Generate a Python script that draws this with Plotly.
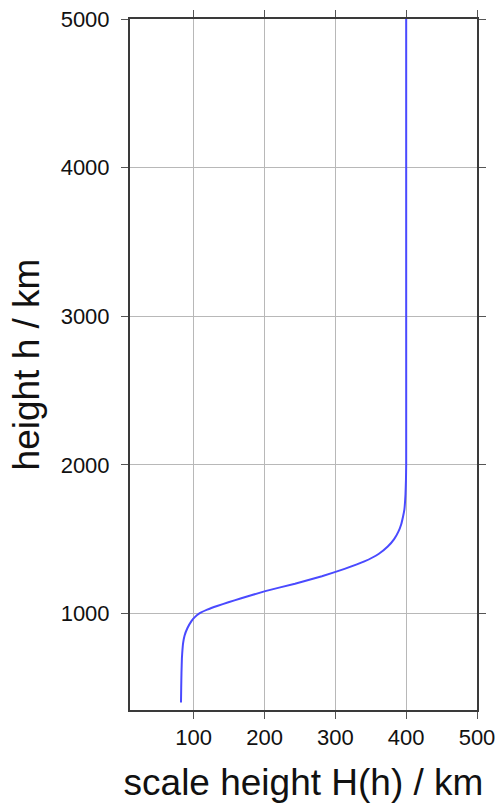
import plotly.graph_objects as go

# height h / km
height_km = [400, 500, 600, 700, 750, 800, 850, 900, 950, 975, 1000, 1025,
             1050, 1075, 1100, 1150, 1200, 1250, 1300, 1350, 1400, 1450, 1500,
             1550, 1600, 1650, 1700, 1800, 1900, 2000, 3000, 4000, 5000]
# scale height H(h) / km
scale_height_km = [82, 82.3, 82.7, 83.3, 84, 85, 87, 91, 97, 101.5, 108, 119,
                   133, 149, 166, 201, 243, 281, 313, 341, 361, 374, 383,
                   389, 393, 395.5, 397.5, 399, 399.7, 400, 400, 400, 400]

x_ticks = [100, 200, 300, 400, 500]
y_ticks = [1000, 2000, 3000, 4000, 5000]

font_family = "Liberation Sans, Arial, Helvetica, sans-serif"

fig = go.Figure()
fig.add_trace(go.Scatter(
    x=scale_height_km, y=height_km, mode="lines",
    line=dict(color="#4a4aff", width=2, shape="spline", smoothing=0.3),
    showlegend=False, hoverinfo="skip",
))

axis_common = dict(
    showline=True, linecolor="#3a3a3a", linewidth=2, mirror="ticks",
    ticks="outside", ticklen=7, tickwidth=1, tickcolor="#555555",
    showgrid=True, gridcolor="#b8b8b8", gridwidth=1, zeroline=False,
    tickfont=dict(family=font_family, size=22, color="#111111"),
    ticklabeloverflow="allow",
    automargin=False,
)

fig.update_xaxes(
    range=[10, 500], tickvals=x_ticks, ticktext=[str(v) for v in x_ticks],
    title=dict(text="scale height H(h) / km",
               font=dict(family=font_family, size=37, color="#111111"),
               standoff=20),
    **axis_common,
)
fig.update_yaxes(
    range=[350, 5000], tickvals=y_ticks, ticktext=[str(v) for v in y_ticks],
    ticklabelstandoff=7,
    title=dict(text="height h / km",
               font=dict(family=font_family, size=37, color="#111111"),
               standoff=10),
    **axis_common,
)

fig.update_layout(
    width=496, height=803,
    margin=dict(l=130, r=19, t=19, b=93, autoexpand=False),
    plot_bgcolor="white", paper_bgcolor="white",
)

# remove the default page margin so the 496x803 figure fills the window exactly
fig.write_html(
    "out.html",
    config={"displayModeBar": False},
    post_script="document.body.style.margin='0';"
                "document.documentElement.style.overflow='hidden';",
)
